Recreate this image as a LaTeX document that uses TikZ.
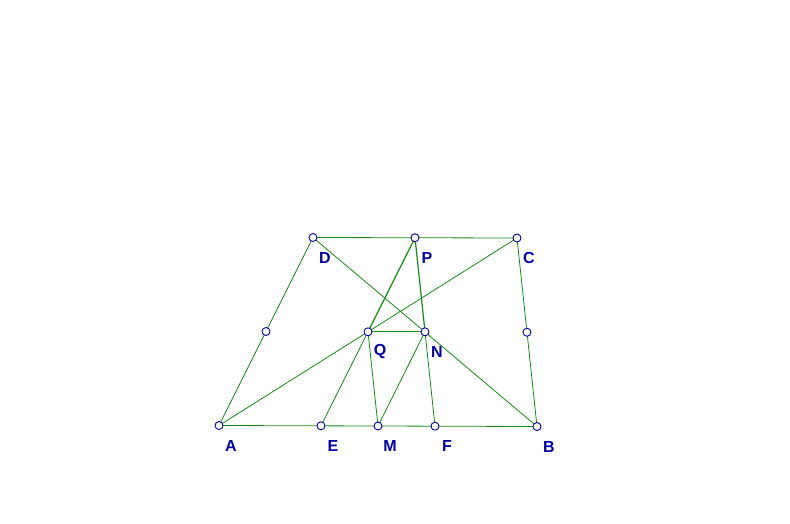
\documentclass[tikz,border=0pt]{standalone}
\usepackage{fontspec}
\setmainfont{Liberation Sans}
\usetikzlibrary{calc}
\definecolor{lgreen}{RGB}{20,140,20}
\definecolor{lblue}{RGB}{0,0,170}
\tikzset{
  every node/.style = {font = \bfseries\fontsize{16}{19}\selectfont}
}
\tikzset{
  seg/.style = {draw=lgreen, line width=0.8pt},
  thickseg/.style = {draw=lgreen, line width=1.2pt},
  pt/.style = {circle, draw=lblue, fill=white, inner sep=0pt, minimum size=8pt, line width=0.9pt},
  lbl/.style = {text=lblue, inner sep=0pt}
}
\begin{document}
\begin{tikzpicture}[x=1pt,y=-1pt]
\useasboundingbox (0,0) rectangle (790,523);

\coordinate (A) at (219,425.5);
\coordinate (E) at (321,425.8);
\coordinate (M) at (378,426);
\coordinate (F) at (435,426.2);
\coordinate (B) at (537,426.5);
\coordinate (D) at (313,237.5);
\coordinate (P) at (415,237.7);
\coordinate (C) at (517,238);
\coordinate (Q) at (368,331.8);
\coordinate (N) at (425,331.8);
\coordinate (K) at ($(A)!0.5!(D)$);
\coordinate (L) at ($(B)!0.5!(C)$);

% Location of points
% D     P     C
% K   Q   N   L
% A  E  M  F  B

% The trapezoid and its diagonals
\draw[seg] (A) -- (B) -- (C) -- (D) -- cycle;
\draw[seg] (A) -- (C);
\draw[seg] (D) -- (B);
% The inner lines
\draw[seg] (Q) -- (N);
\draw[seg] (E) -- (Q);
\draw[thickseg] (Q) -- (P);
\draw[thickseg] (P) -- (N);
\draw[seg] (N) -- (F);
\draw[seg] (Q) -- (M) -- (N);

% The points
\foreach \p in {A,E,M,F,B,D,P,C,Q,N,K,L}
  \node[pt] (d\p) at (\p) {};
\foreach \p in {A,E,M,F,B,D,P,C,Q,N}
  \node[lbl] (l\p) at ($(\p)+(12,20)$) {\p};
\end{tikzpicture}
\end{document}
